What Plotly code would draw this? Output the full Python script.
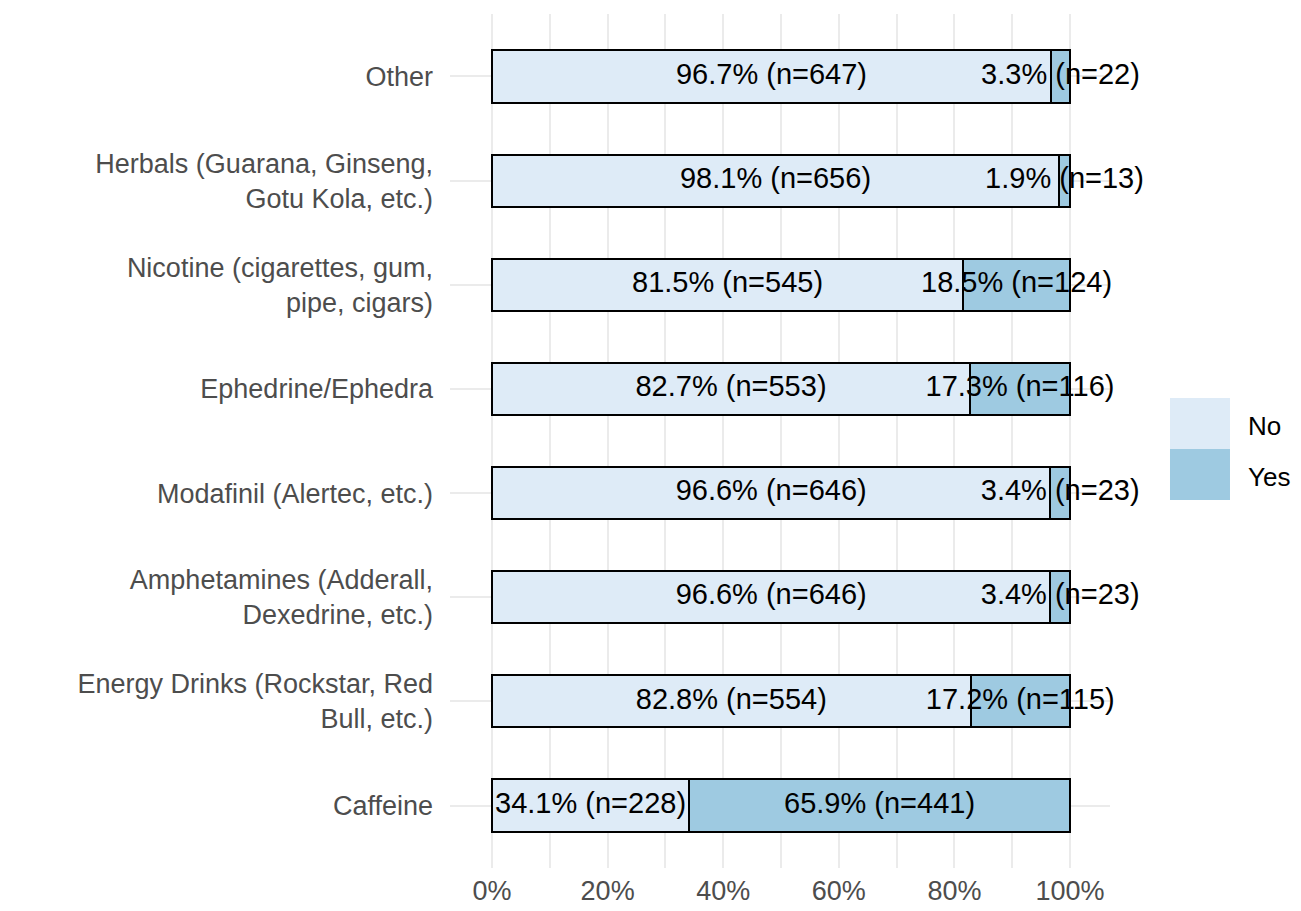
import plotly.graph_objects as go

categories = [
    "Caffeine",
    "Energy Drinks (Rockstar, Red<br>Bull, etc.)",
    "Amphetamines (Adderall,<br>Dexedrine, etc.)",
    "Modafinil (Alertec, etc.)",
    "Ephedrine/Ephedra",
    "Nicotine (cigarettes, gum,<br>pipe, cigars)",
    "Herbals (Guarana, Ginseng,<br>Gotu Kola, etc.)",
    "Other",
]
no_pct = [34.1, 82.8, 96.6, 96.6, 82.7, 81.5, 98.1, 96.7]
no_n = [228, 554, 646, 646, 553, 545, 656, 647]
yes_pct = [65.9, 17.2, 3.4, 3.4, 17.3, 18.5, 1.9, 3.3]
yes_n = [441, 115, 23, 23, 116, 124, 13, 22]
x_ticks = [0, 0.2, 0.4, 0.6, 0.8, 1.0]
x_tick_labels = ["0%", "20%", "40%", "60%", "80%", "100%"]

NO_COLOR = "#DEEBF7"
YES_COLOR = "#9ECAE1"
FONT = "Liberation Sans, Arial, sans-serif"

no_x = [p / 100 for p in no_pct]
yes_x = [p / 100 for p in yes_pct]

fig = go.Figure()
fig.add_trace(go.Bar(
    y=categories, x=no_x, orientation="h", name="No",
    marker=dict(color=NO_COLOR, line=dict(color="black", width=2)),
    width=0.5, showlegend=False, hoverinfo="skip",
))
fig.add_trace(go.Bar(
    y=categories, x=yes_x, orientation="h", name="Yes",
    marker=dict(color=YES_COLOR, line=dict(color="black", width=2)),
    width=0.5, showlegend=False, hoverinfo="skip",
))

# segment labels at each segment midpoint
lab_x, lab_y, lab_t = [], [], []
for c, np_, nn, yp, yn in zip(categories, no_x, no_n, yes_x, yes_n):
    lab_x.append(np_ / 2)
    lab_y.append(c)
    lab_t.append(f"{np_*100:.1f}% (n={nn})")
    lab_x.append(np_ + yp / 2)
    lab_y.append(c)
    lab_t.append(f"{yp*100:.1f}% (n={yn})")

fig.add_trace(go.Scatter(
    x=lab_x, y=lab_y, mode="text", text=lab_t,
    textfont=dict(family=FONT, size=29, color="black"),
    textposition="middle center", showlegend=False, hoverinfo="skip",
    cliponaxis=False,
))

# the page body adds an 8px offset; compensate in size/margins
fig.update_layout(
    width=1293, height=903,
    margin=dict(l=442, r=191, t=6, b=43),
    paper_bgcolor="white", plot_bgcolor="white",
    barmode="stack",
    font=dict(family=FONT, color="#4D4D4D"),
    showlegend=False,
)
fig.update_xaxes(
    range=[-0.0727, 1.0692],
    tickvals=x_ticks, ticktext=x_tick_labels,
    showgrid=True, gridcolor="#EBEBEB", gridwidth=2,
    minor=dict(dtick=0.1, tick0=0, showgrid=True, gridcolor="#EBEBEB", gridwidth=2),
    zeroline=False, showline=False, ticks="",
    tickfont=dict(family=FONT, size=27, color="#4D4D4D"),
    ticklabelstandoff=4, automargin=False,
)
fig.update_yaxes(
    type="category", categoryorder="array", categoryarray=categories,
    range=[-0.6, 7.6],
    showgrid=True, gridcolor="#EBEBEB", gridwidth=2,
    zeroline=False, showline=False, ticks="",
    tickfont=dict(family=FONT, size=27, color="#4D4D4D"),
    ticklabelstandoff=16, automargin=False,
)

# legend keys (ggplot-style)
legend_items = [("No", NO_COLOR), ("Yes", YES_COLOR)]
key_x0, key_x1 = 1.0909, 1.1818
key_top = 0.5504
key_h = 0.0598
for i, (name, col) in enumerate(legend_items):
    y1 = key_top - i * key_h
    y0 = y1 - key_h
    fig.add_shape(type="rect", xref="paper", yref="paper",
                  x0=key_x0, x1=key_x1, y0=y0, y1=y1,
                  fillcolor=col, line=dict(width=0), layer="above")
    fig.add_annotation(xref="paper", yref="paper", x=1.2060, y=(y0 + y1) / 2 - 0.003,
                       text=name, showarrow=False, xanchor="left", yanchor="middle",
                       font=dict(family=FONT, size=26, color="black"))

fig.write_html("out.html")
